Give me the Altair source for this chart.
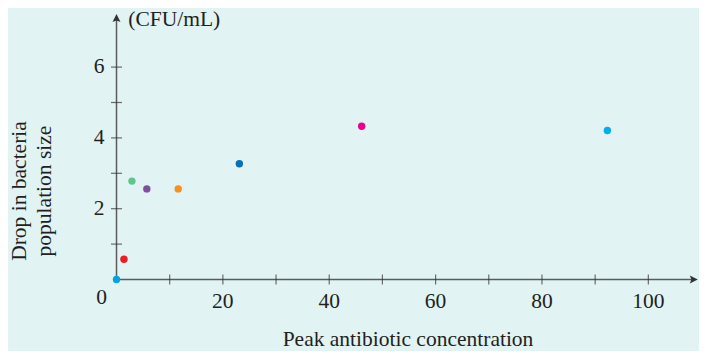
import altair as alt
import pandas as pd

# ---- data ----
groups = ["g1", "g2", "g3", "g4", "g5", "g6", "g7", "g8"]
conc = [0, 1.4, 2.9, 5.7, 11.6, 23.1, 46.1, 92.3]
drop = [0, 0.57, 2.78, 2.56, 2.56, 3.27, 4.33, 4.21]
colors = ["#00a3e4", "#ed1c24", "#5ec68a", "#7f4f9f", "#f7901e", "#0071bc", "#ec008c", "#00aeef"]

x_ticks = [10, 20, 30, 40, 50, 60, 70, 80, 90, 100]
x_labels = [20, 40, 60, 80, 100]
y_ticks = [1, 2, 3, 4, 5, 6]
y_labels = [2, 4, 6]
x_end = 109.3
y_end = 7.5

FONT = "Liberation Serif"
TXT = "#231f20"
AX = "#5a5b5d"
TK = "#333333"
BG = "#e1f3f3"
FS = 21.5

X = alt.Scale(domain=[0, x_end], nice=False, zero=False)
Y = alt.Scale(domain=[0, y_end], nice=False, zero=False)

pts = pd.DataFrame({"group": groups, "conc": conc, "drop": drop})
one = pd.DataFrame({"o": [0]})

xaxis_line = alt.Chart(one).mark_rule(color=AX, strokeWidth=1.5).encode(
    x=alt.X(datum=0, scale=X, axis=None), x2=alt.X2(datum=x_end - 1),
    y=alt.Y(datum=0, scale=Y, axis=None))
yaxis_line = alt.Chart(one).mark_rule(color=AX, strokeWidth=1.5).encode(
    x=alt.X(datum=0, scale=X, axis=None),
    y=alt.Y(datum=0, scale=Y, axis=None), y2=alt.Y2(datum=y_end - 0.15))

x_arrow = alt.Chart(one).mark_point(
    shape="M0,0 L-1,-0.5 L-0.8,0 L-1,0.5 Z", filled=True, size=256, opacity=1,
    color=TK, strokeWidth=0).encode(
    x=alt.X(datum=x_end, scale=X, axis=None), y=alt.Y(datum=0, scale=Y, axis=None))
y_arrow = alt.Chart(one).mark_point(
    shape="M0,0 L-0.5,1 L0,0.8 L0.5,1 Z", filled=True, size=256, opacity=1,
    color=TK, strokeWidth=0).encode(
    x=alt.X(datum=0, scale=X, axis=None), y=alt.Y(datum=y_end, scale=Y, axis=None))

xt = alt.Chart(pd.DataFrame({"v": x_ticks})).mark_tick(
    orient="vertical", size=10, thickness=1.2, color=TK).encode(
    x=alt.X("v:Q", scale=X, axis=None), y=alt.Y(datum=0, scale=Y, axis=None))
yt = alt.Chart(pd.DataFrame({"v": y_ticks})).mark_tick(
    orient="horizontal", size=11, thickness=1.2, color=TK).encode(
    y=alt.Y("v:Q", scale=Y, axis=None), x=alt.X(datum=0, scale=X, axis=None))

xl = alt.Chart(pd.DataFrame({"v": x_labels})).mark_text(
    font=FONT, fontSize=FS, color=TXT, align="center", baseline="alphabetic", dy=28.5).encode(
    x=alt.X("v:Q", scale=X, axis=None), y=alt.Y(datum=0, scale=Y, axis=None),
    text=alt.Text("v:Q"))
zero_l = alt.Chart(one).mark_text(
    font=FONT, fontSize=FS, color=TXT, align="center", baseline="alphabetic", dx=-15, dy=24.5).encode(
    x=alt.X(datum=0, scale=X, axis=None), y=alt.Y(datum=0, scale=Y, axis=None),
    text=alt.value("0"))
yl = alt.Chart(pd.DataFrame({"v": y_labels})).mark_text(
    font=FONT, fontSize=FS, color=TXT, align="right", baseline="middle", dx=-12).encode(
    y=alt.Y("v:Q", scale=Y, axis=None), x=alt.X(datum=0, scale=X, axis=None),
    text=alt.Text("v:Q"))

unit = alt.Chart(one).mark_text(
    font=FONT, fontSize=FS, color=TXT, align="left", baseline="alphabetic").encode(
    x=alt.value(11.8), y=alt.value(11.5), text=alt.value("(CFU/mL)"))
xtitle = alt.Chart(one).mark_text(
    font=FONT, fontSize=FS, color=TXT, align="center", baseline="alphabetic").encode(
    x=alt.value(291.5), y=alt.value(332), text=alt.value("Peak antibiotic concentration"))
ytitle = alt.Chart(one).mark_text(
    font=FONT, fontSize=FS, color=TXT, align="center", baseline="alphabetic",
    angle=270, lineBreak="\n", lineHeight=25).encode(
    x=alt.value(-90.5), y=alt.value(177), text=alt.value("Drop in bacteria\npopulation size"))

dots = alt.Chart(pts).mark_circle(size=55, opacity=1).encode(
    x=alt.X("conc:Q", scale=X, axis=None),
    y=alt.Y("drop:Q", scale=Y, axis=None),
    color=alt.Color("group:N", scale=alt.Scale(domain=groups, range=colors), legend=None))

chart = alt.layer(
    xaxis_line, yaxis_line, x_arrow, y_arrow, xt, yt, xl, zero_l, yl,
    unit, xtitle, ytitle, dots
).properties(
    width=581.3, height=265.5,
    autosize=alt.AutoSizeParams(type="none"),
    padding={"left": 108.5, "top": 6, "right": 1.2, "bottom": 71.5},
    background=BG,
).configure_view(stroke=None)

chart.save("out.html", embed_options={"renderer": "svg", "actions": False})
